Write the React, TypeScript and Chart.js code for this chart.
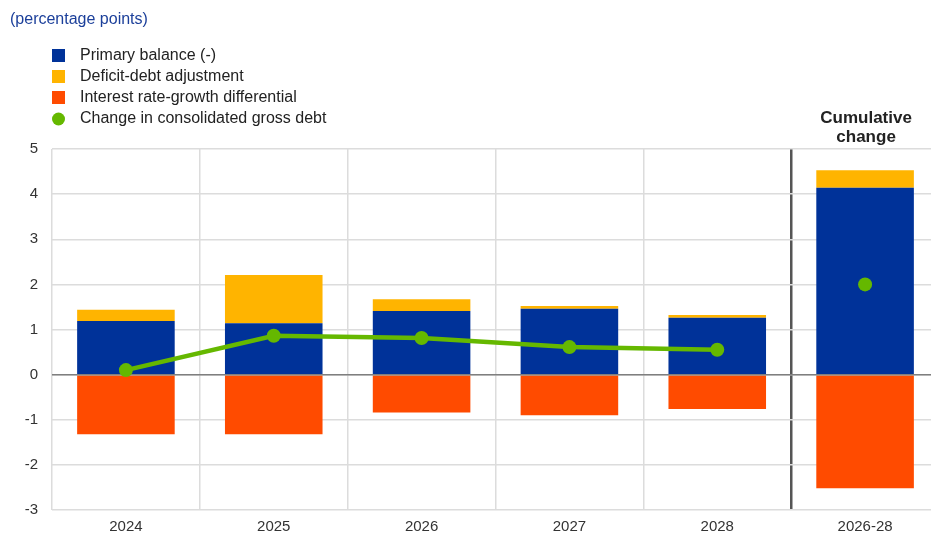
import React, { useEffect, useRef } from "react";
import { Chart, registerables } from "chart.js";

Chart.register(...registerables);

const categories = ["2024", "2025", "2026", "2027", "2028", "2026-28"];
const primaryBalance = [1.19, 1.14, 1.41, 1.46, 1.26, 4.14];
const deficitDebtAdj = [0.25, 1.07, 0.26, 0.06, 0.06, 0.39];
const interestGrowth = [-1.32, -1.32, -0.84, -0.9, -0.76, -2.52];
const debtChange = [0.1, 0.86, 0.81, 0.61, 0.55, null];
const debtChangeCumulative = [null, null, null, null, null, 2.0];
const yTicks = [-3, -2, -1, 0, 1, 2, 3, 4, 5];

const legendLabels = [
  "Primary balance (-)",
  "Deficit-debt adjustment",
  "Interest rate-growth differential",
  "Change in consolidated gross debt",
];

const BLUE = "#003299";
const YELLOW = "#FFB400";
const RED = "#FF4B00";
const GREEN = "#65B800";
const FONT = "'Liberation Sans', Arial, sans-serif";

export default function App() {
  const ref = useRef<HTMLCanvasElement | null>(null);

  useEffect(() => {
    document.body.style.margin = "0";
    document.body.style.overflow = "hidden";
    const canvas = ref.current;
    if (!canvas) return;

    const overlay = {
      id: "overlay",
      beforeDatasetDraw(chart: any, args: any) {
        if (args.index !== 3) return;
        const { ctx, chartArea } = chart;
        const y0 = chart.scales.y.getPixelForValue(0);
        ctx.save();
        ctx.strokeStyle = "#7f7f7f";
        ctx.lineWidth = 1.5;
        ctx.beginPath();
        ctx.moveTo(chartArea.left, y0);
        ctx.lineTo(chartArea.right, y0);
        ctx.stroke();
        ctx.restore();
      },
      afterDraw(chart: any) {
        const { ctx } = chart;
        ctx.save();
        ctx.font = `16px ${FONT}`;
        ctx.textBaseline = "middle";
        ctx.textAlign = "left";
        ctx.fillStyle = "#1b3f9a";
        ctx.fillText("(percentage points)", 10, 20);

        const colors = [BLUE, YELLOW, RED, GREEN];
        legendLabels.forEach((label, i) => {
          const y = 55 + i * 21;
          ctx.fillStyle = colors[i];
          if (i === 3) {
            ctx.beginPath();
            ctx.arc(58.5, y + 1, 6.5, 0, Math.PI * 2);
            ctx.fill();
          } else {
            ctx.fillRect(52, y - 6, 13, 13);
          }
          ctx.fillStyle = "#222";
          ctx.font = `16px ${FONT}`;
          ctx.fillText(label, 80, y + 1);
        });

        const xs = chart.scales.x.getPixelForValue(5);
        ctx.font = `bold 17px ${FONT}`;
        ctx.textAlign = "center";
        ctx.fillStyle = "#222";
        ctx.fillText("Cumulative", xs + 1, 118);
        ctx.fillText("change", xs + 1, 137);
        ctx.restore();
      },
    };

    const chart = new Chart(canvas, {
      type: "bar",
      data: {
        labels: categories,
        datasets: [
          {
            label: legendLabels[0],
            data: primaryBalance,
            backgroundColor: BLUE,
            stack: "bars",
            order: 2,
            barPercentage: 0.66,
            categoryPercentage: 1,
          },
          {
            label: legendLabels[1],
            data: deficitDebtAdj,
            backgroundColor: YELLOW,
            stack: "bars",
            order: 2,
            barPercentage: 0.66,
            categoryPercentage: 1,
          },
          {
            label: legendLabels[2],
            data: interestGrowth,
            backgroundColor: RED,
            stack: "bars",
            order: 2,
            barPercentage: 0.66,
            categoryPercentage: 1,
          },
          {
            type: "line",
            label: legendLabels[3],
            data: debtChange,
            borderColor: GREEN,
            backgroundColor: GREEN,
            borderWidth: 4.5,
            pointRadius: 7,
            pointBorderWidth: 0,
            stack: "line1",
            order: 1,
            spanGaps: false,
          } as any,
          {
            type: "line",
            label: legendLabels[3] + " cumulative",
            data: debtChangeCumulative,
            borderColor: GREEN,
            backgroundColor: GREEN,
            showLine: false,
            pointRadius: 7,
            pointBorderWidth: 0,
            stack: "line2",
            order: 1,
          } as any,
        ],
      },
      options: {
        animation: false,
        responsive: false,
        layout: { padding: { top: 149, left: 0, right: 0, bottom: 0 } },
        plugins: {
          legend: { display: false },
          tooltip: { enabled: false },
        },
        scales: {
          x: {
            stacked: true,
            afterFit: (s: any) => {
              s.height = 24;
            },
            border: { display: false },
            grid: {
              offset: true,
              drawTicks: false,
              color: (c: any) => (c.index === 5 ? "#555555" : "#dcdcdc"),
              lineWidth: (c: any) => (c.index === 5 ? 2.5 : 1.5),
            },
            ticks: {
              padding: 8,
              color: "#333",
              font: { family: FONT, size: 15 },
            },
          },
          y: {
            stacked: true,
            min: -3,
            max: 5,
            afterFit: (s: any) => {
              s.width = 52;
            },
            afterBuildTicks: (s: any) => {
              s.ticks = yTicks.map((v) => ({ value: v }));
            },
            border: { display: false },
            grid: {
              drawTicks: false,
              color: "#dcdcdc",
              lineWidth: 1.5,
            },
            ticks: {
              padding: 14,
              color: "#333",
              font: { family: FONT, size: 15 },
            },
          },
        },
      },
      plugins: [overlay],
    });

    return () => chart.destroy();
  }, []);

  return (
    <div style={{ width: 931, height: 534, overflow: "hidden", position: "relative" }}>
      <canvas ref={ref} width={946} height={534} style={{ width: 946, height: 534, display: "block" }} />
    </div>
  );
}
